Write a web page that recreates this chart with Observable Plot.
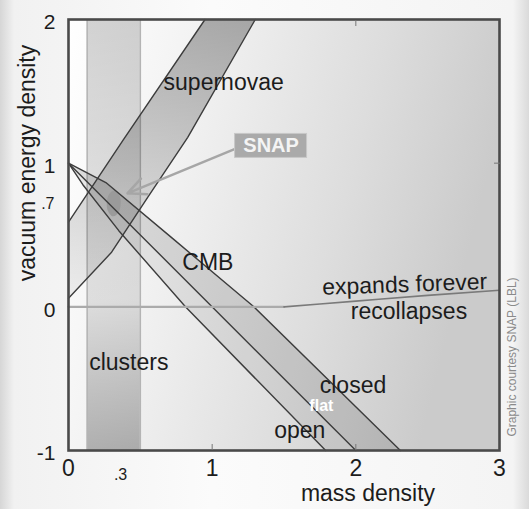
<!DOCTYPE html>
<html><head><meta charset="utf-8">
<script src="https://cdn.jsdelivr.net/npm/d3@7"></script>
<script src="https://cdn.jsdelivr.net/npm/@observablehq/plot@0.6"></script>
<style>
html,body{margin:0;padding:0;}
body{width:529px;height:509px;overflow:hidden;background:linear-gradient(to right,#d6d6d6 0,#f1f1f1 14px,#fbfbfb 40%,#f4f4f4 calc(100% - 16px),#dadada 100%);}
#chart svg{display:block;}
</style></head><body><div id="chart"></div>
<script>
// axis ticks
const xTicks = [0, 1, 2, 3];
const xTickLabels = ["0", "1", "2", "3"];
const xSmallTicks = [0.3];
const xSmallTickLabels = [".3"];
const yTicks = [-1, 0, 1, 2];
const yTickLabels = ["-1", "0", "1", "2"];
const ySmallTicks = [0.7];
const ySmallTickLabels = [".7"];
const innerTicksX = [1, 2];
const innerTicksY = [1];

// constraint regions (mass density, vacuum energy density)
const clusterRange = [0.13, 0.5];
const snUpper = [[0, 0.59], [0.38, 1.16], [0.95, 2.0]];
const snLower = [[0, 0.06], [0.3, 0.38], [0.55, 0.76], [0.83, 1.18], [1.30, 2.0]];
const cmbOpen = [[0, 1], [0.1, 0.85], [0.35, 0.53], [0.814, 0], [1.79, -1]];
const cmbFlat = [[0, 1], [2, -1]];
const cmbClosed = [[0, 1], [0.26, 0.865], [0.72, 0.48], [1.29, 0], [2.31, -1]];
const snapBlob = [[0.28, 0.78], [0.32, 0.81], [0.36, 0.76], [0.35, 0.66], [0.31, 0.63], [0.27, 0.68]];
const expandFlatX = [0, 1.5];
const expandFlatY = [0, 0];
const expandCurveX = [1.5, 2, 2.5, 3];
const expandCurveY = [0, 0.04, 0.08, 0.115];

// labels
const regionLabels = ["supernovae", "CMB", "clusters", "closed", "open", "recollapses"];
const regionLabelX = [1.08, 0.97, 0.42, 1.98, 1.61, 2.37];
const regionLabelY = [1.56, 0.31, -0.39, -0.55, -0.86, -0.03];
const expandLabel = {text: "expands forever", x: 2.34, y: 0.155};
const flatLabel = {text: "flat", x: 1.76, y: -0.69};
const snapLabel = {text: "SNAP", x: 1.41, y: 1.12};
const snapArrow = {x1: 1.16, y1: 1.10, x2: 0.41, y2: 0.79};
const xTitle = "mass density";
const yTitle = "vacuum energy density";
const credit = "Graphic courtesy SNAP (LBL)";

const FONT = "Liberation Sans, Arial, Helvetica, sans-serif";
const INK = "#1c1c1c";
const LINE = "#3c3c3c";

const snPoly = snUpper.concat(snLower.slice().reverse());
const openFlatPoly = cmbOpen.concat(cmbFlat.slice().reverse());
const flatClosedPoly = cmbFlat.concat(cmbClosed.slice().reverse());
const regionData = regionLabels.map((t, i) => ({text: t, x: regionLabelX[i], y: regionLabelY[i]}));
const xTickData = xTicks.map((v, i) => ({v, t: xTickLabels[i]}));
const xSmallData = xSmallTicks.map((v, i) => ({v, t: xSmallTickLabels[i]}));
const yTickData = yTicks.map((v, i) => ({v, t: yTickLabels[i]}));
const ySmallData = ySmallTicks.map((v, i) => ({v, t: ySmallTickLabels[i]}));
const expandFlat = expandFlatX.map((x, i) => [x, expandFlatY[i]]);
const expandCurve = expandCurveX.map((x, i) => [x, expandCurveY[i]]);

const poly = (pts, opts) => Plot.line(pts, {x: d => d[0], y: d => d[1], stroke: "none", ...opts});
const edge = (pts, opts) => Plot.line(pts, {x: d => d[0], y: d => d[1], stroke: LINE, strokeWidth: 1.4, ...opts});

const svg = Plot.plot({
  width: 529, height: 509,
  marginLeft: 68, marginTop: 19, marginRight: 30, marginBottom: 59,
  x: {domain: [0, 3], axis: null},
  y: {domain: [-1, 2], axis: null},
  style: {fontFamily: FONT, background: "transparent", overflow: "visible"},
  marks: [
    Plot.frame({fill: "url(#bgGrad)", stroke: "none"}),
    Plot.rect([clusterRange], {x1: d => d[0], x2: d => d[1], fill: "url(#clGrad)"}),
    Plot.ruleX(clusterRange, {stroke: "#b4b4b4", strokeWidth: 1.5}),
    poly(snPoly, {fill: "url(#snGrad)"}),
    poly(openFlatPoly, {fill: "#000", fillOpacity: 0.07}),
    poly(flatClosedPoly, {fill: "#000", fillOpacity: 0.12}),
    poly(snapBlob, {fill: "#9a9a9a", curve: "catmull-rom-closed"}),
    edge(snUpper),
    edge(snLower),
    edge(cmbOpen),
    edge(cmbFlat),
    edge(cmbClosed),
    Plot.line(expandFlat, {x: d => d[0], y: d => d[1], stroke: "#ababab", strokeWidth: 2.2}),
    Plot.line(expandCurve, {x: d => d[0], y: d => d[1], stroke: "#7a7a7a", strokeWidth: 1.6, curve: "monotone-x"}),
    Plot.text(regionData, {x: "x", y: "y", text: "text", fontSize: 23, fill: INK}),
    Plot.text([expandLabel], {x: "x", y: "y", text: "text", fontSize: 23, fill: INK, rotate: -2}),
    Plot.text([flatLabel], {x: "x", y: "y", text: "text", fontSize: 16, fill: "#ffffff", fontWeight: "bold"}),
    Plot.arrow([snapArrow], {x1: "x1", y1: "y1", x2: "x2", y2: "y2", stroke: "#a6a6a6", strokeWidth: 2.5, headLength: 12, headAngle: 50}),
    Plot.rect([snapLabel], {x1: "x", x2: "x", y1: "y", y2: "y", insetLeft: -36, insetRight: -36, insetTop: -12, insetBottom: -12, fill: "#aaaaaa", stroke: "#c8c8c8", strokeWidth: 1}),
    Plot.text([snapLabel], {x: "x", y: "y", text: "text", fontSize: 20, fontWeight: "bold", fill: "#f4f4f4"}),
    Plot.frame({stroke: "#4a4a4a", strokeWidth: 2.6}),
    Plot.axisX(innerTicksX, {anchor: "bottom", tickSize: -6, tickFormat: () => "", stroke: "#777", label: null}),
    Plot.axisX(innerTicksX.slice(1), {anchor: "top", tickSize: -6, tickFormat: () => "", stroke: "#777", label: null}),
    Plot.axisY(innerTicksY, {anchor: "right", tickSize: -6, tickFormat: () => "", stroke: "#777", label: null}),
    Plot.text(xTickData, {x: "v", text: "t", frameAnchor: "bottom", lineAnchor: "middle", textAnchor: "middle", dy: 18, fontSize: 23, fill: INK}),
    Plot.text(xSmallData, {x: "v", text: "t", frameAnchor: "bottom", lineAnchor: "middle", textAnchor: "middle", dy: 24, dx: 9, fontSize: 16, fill: INK}),
    Plot.text(yTickData, {y: "v", text: "t", frameAnchor: "left", lineAnchor: "middle", dx: -13, dy: 3, textAnchor: "end", fontSize: 21, fill: INK}),
    Plot.text(ySmallData, {y: "v", text: "t", frameAnchor: "left", lineAnchor: "middle", dx: -14, dy: -2, textAnchor: "end", fontSize: 16, fill: INK}),
    Plot.text([xTitle], {text: d => d, frameAnchor: "bottom", lineAnchor: "middle", textAnchor: "middle", dx: 84, dy: 43, fontSize: 23, fill: INK}),
    Plot.text([yTitle], {text: d => d, frameAnchor: "left", lineAnchor: "middle", textAnchor: "middle", dx: -41, dy: -72, rotate: -90, fontSize: 23, fill: INK}),
    Plot.text([credit], {text: d => d, frameAnchor: "right", lineAnchor: "middle", textAnchor: "middle", dx: 13, dy: 122, rotate: -90, fontSize: 12, fill: "#8a8a8a"})
  ]
});

const defs = d3.select(svg).insert("defs", ":first-child");
const grad = (id, x2, y2, stops) => {
  const g = defs.append("linearGradient").attr("id", id).attr("x1", 0).attr("y1", 0).attr("x2", x2).attr("y2", y2);
  stops.forEach(([o, c, a]) => g.append("stop").attr("offset", o).attr("stop-color", c).attr("stop-opacity", a));
};
grad("bgGrad", 1, 0.25, [[0, "#ffffff", 1], [0.3, "#f2f2f2", 1], [0.7, "#dddddd", 1], [1, "#cbcbcb", 1]]);
grad("clGrad", 0, 1, [[0, "#000", 0.17], [0.4, "#000", 0.11], [0.65, "#000", 0.1], [1, "#000", 0.28]]);
grad("snGrad", 0, 1, [[0, "#000", 0.3], [0.5, "#000", 0.17], [1, "#000", 0.05]]);

document.getElementById("chart").appendChild(svg);
</script></body></html>
